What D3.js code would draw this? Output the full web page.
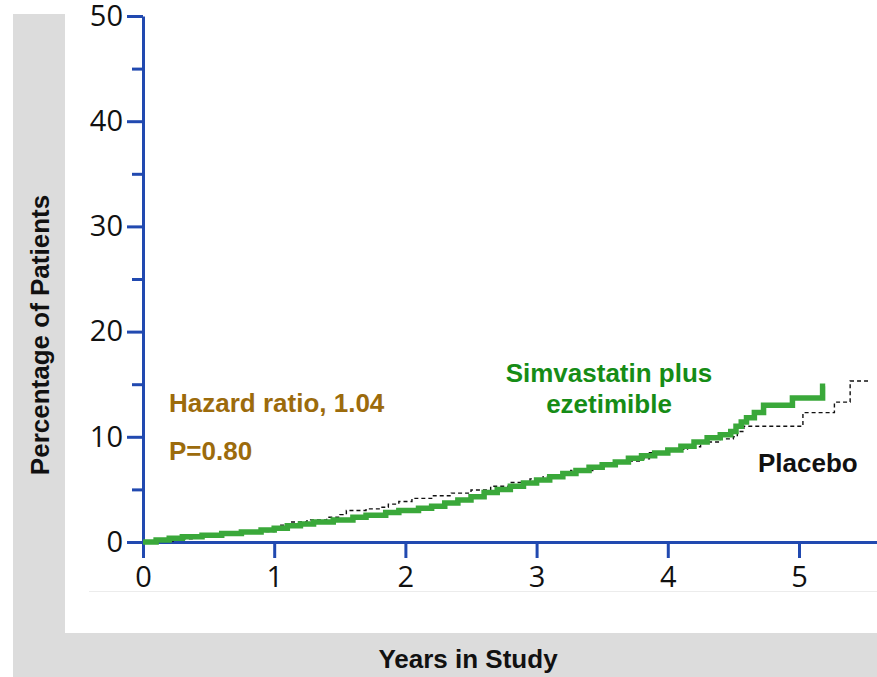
<!DOCTYPE html>
<html>
<head>
<meta charset="utf-8">
<script src="https://cdn.jsdelivr.net/npm/d3@7"></script>
<style>
  body { margin: 0; background: #fff; }
  svg { display: block; }
</style>
</head>
<body>
<svg width="877" height="677"></svg>
<script>
// Kaplan-Meier style cumulative curves: [years, percent]
var simvaEzetimibe = [
  [0, 0], [0.1, 0.2], [0.2, 0.35], [0.3, 0.5], [0.45, 0.65], [0.6, 0.8], [0.75, 0.95],
  [0.9, 1.15], [1.0, 1.3], [1.1, 1.55], [1.2, 1.7], [1.3, 1.9], [1.45, 2.1], [1.6, 2.35],
  [1.7, 2.55], [1.85, 2.8], [1.95, 3.0], [2.1, 3.2], [2.2, 3.4], [2.3, 3.7], [2.4, 4.0],
  [2.5, 4.3], [2.6, 4.7], [2.7, 5.0], [2.8, 5.3], [2.9, 5.6], [3.0, 5.9], [3.1, 6.2],
  [3.2, 6.5], [3.3, 6.8], [3.4, 7.1], [3.5, 7.35], [3.6, 7.6], [3.7, 7.95], [3.8, 8.2],
  [3.9, 8.45], [4.0, 8.75], [4.1, 9.1], [4.2, 9.5], [4.3, 9.9], [4.4, 10.2], [4.48, 10.5],
  [4.52, 11.0], [4.56, 11.4], [4.6, 11.8], [4.66, 12.3], [4.73, 13.0], [4.95, 13.7],
  [5.18, 14.8], [5.2, 14.8]
];
var placebo = [
  [0, 0], [0.1, 0.1], [0.25, 0.3], [0.4, 0.55], [0.55, 0.7], [0.7, 0.85], [0.85, 1.0],
  [1.0, 1.25], [1.05, 1.6], [1.12, 1.9], [1.25, 2.1], [1.4, 2.35], [1.5, 2.6], [1.55, 3.0],
  [1.7, 3.15], [1.8, 3.3], [1.87, 3.6], [1.95, 3.85], [2.05, 4.15], [2.2, 4.4], [2.35, 4.65],
  [2.5, 4.95], [2.65, 5.3], [2.8, 5.65], [2.95, 6.0], [3.05, 6.2], [3.22, 6.45], [3.26, 6.8],
  [3.45, 7.1], [3.5, 7.5], [3.65, 7.7], [3.8, 7.9], [3.86, 8.5], [4.0, 8.8], [4.15, 9.05],
  [4.25, 9.5], [4.4, 9.8], [4.5, 10.0], [4.53, 10.5], [4.58, 11.0], [5.03, 12.3],
  [5.27, 13.3], [5.39, 15.3], [5.54, 15.3]
];
var xTicks = [0, 1, 2, 3, 4, 5];
var yTicks = [0, 10, 20, 30, 40, 50];
var yMinorTicks = [5, 15, 25, 35, 45];

var svg = d3.select("svg");
var blue = "#2149b0";

// background panels
svg.append("rect").attr("x", 13).attr("y", 14).attr("width", 864).attr("height", 663).attr("fill", "#dcdcdc");
svg.append("rect").attr("x", 65).attr("y", 0).attr("width", 812).attr("height", 633).attr("fill", "#fff");
svg.append("line").attr("x1", 89).attr("x2", 877).attr("y1", 591.5).attr("y2", 591.5)
  .attr("stroke", "#ececec").attr("stroke-width", 1);

var x = d3.scaleLinear().domain([0, 5.6]).range([143, 877.7]);
var y = d3.scaleLinear().domain([0, 50]).range([542, 16]);

// axes
var yAxis = svg.append("g").attr("transform", "translate(143,0)")
  .call(d3.axisLeft(y).tickValues(yTicks).tickSize(16).tickSizeOuter(0).tickPadding(4)
    .tickFormat(d3.format("d")));
var yMinor = svg.append("g").attr("transform", "translate(143,0)")
  .call(d3.axisLeft(y).tickValues(yMinorTicks).tickSize(11).tickSizeOuter(0).tickFormat(""));
var xAxis = svg.append("g").attr("transform", "translate(0,542)")
  .call(d3.axisBottom(x).tickValues(xTicks).tickSize(16).tickSizeOuter(0).tickPadding(8)
    .tickFormat(d3.format("d")));

[yAxis, yMinor, xAxis].forEach(function(g) {
  g.selectAll("path.domain").attr("stroke", blue).attr("stroke-width", 3);
  g.selectAll(".tick line").attr("stroke", blue).attr("stroke-width", 3);
  g.selectAll(".tick text")
    .attr("font-family", "'Open Sans', sans-serif")
    .attr("font-size", 29)
    .attr("fill", "#111");
});
yMinor.select("path.domain").remove();

// curves
var line = d3.line()
  .x(function(d) { return x(d[0]); })
  .y(function(d) { return y(d[1]); })
  .curve(d3.curveStepAfter);

svg.append("path")
  .datum(placebo)
  .attr("d", line)
  .attr("fill", "none")
  .attr("stroke", "#111")
  .attr("stroke-width", 1.4)
  .attr("stroke-dasharray", "4,3");

svg.append("path")
  .datum(simvaEzetimibe)
  .attr("d", line)
  .attr("fill", "none")
  .attr("stroke", "#3aa83a")
  .attr("stroke-width", 5.5);

// labels
var bold = "'Liberation Sans', Arial, sans-serif";
svg.append("text")
  .attr("transform", "translate(49,335) rotate(-90)")
  .attr("text-anchor", "middle")
  .attr("font-family", bold).attr("font-weight", "bold").attr("font-size", 26)
  .attr("fill", "#111")
  .text("Percentage of Patients");

svg.append("text")
  .attr("x", 468).attr("y", 668)
  .attr("text-anchor", "middle")
  .attr("font-family", bold).attr("font-weight", "bold").attr("font-size", 26)
  .attr("fill", "#111")
  .text("Years in Study");

svg.append("text").attr("x", 169).attr("y", 412)
  .attr("font-family", bold).attr("font-weight", "bold").attr("font-size", 26)
  .attr("fill", "#9c6b0c").text("Hazard ratio, 1.04");
svg.append("text").attr("x", 169).attr("y", 460)
  .attr("font-family", bold).attr("font-weight", "bold").attr("font-size", 26)
  .attr("fill", "#9c6b0c").text("P=0.80");

var sim = svg.append("text")
  .attr("text-anchor", "middle")
  .attr("font-family", bold).attr("font-weight", "bold").attr("font-size", 26)
  .attr("fill", "#168c16");
sim.append("tspan").attr("x", 609).attr("y", 382).text("Simvastatin plus");
sim.append("tspan").attr("x", 609).attr("y", 413).text("ezetimible");

svg.append("text").attr("x", 758).attr("y", 472)
  .attr("font-family", bold).attr("font-weight", "bold").attr("font-size", 26)
  .attr("fill", "#111").text("Placebo");
</script>
</body>
</html>
